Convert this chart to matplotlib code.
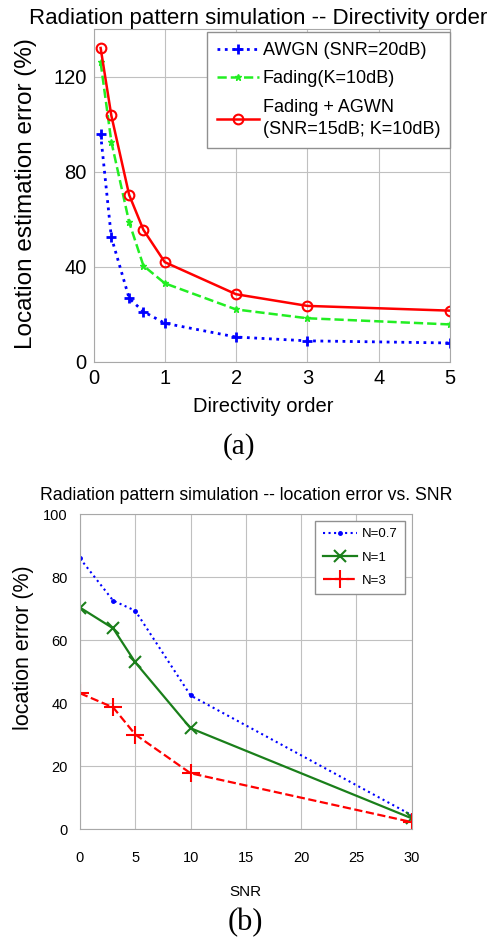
import matplotlib
matplotlib.use("Agg")
import matplotlib.pyplot as plt

SANS = ['Liberation Sans', 'DejaVu Sans']
SERIF = ['Liberation Serif', 'DejaVu Serif']
plt.rcParams['font.family'] = SANS

# ---- data panel (a) ----
order = [0.1, 0.25, 0.5, 0.7, 1, 2, 3, 5]
awgn = [95.7, 52.4, 26.7, 21.1, 16.2, 10.4, 8.8, 7.9]
fading = [125.9, 92.6, 58.7, 40.4, 33.0, 22.0, 18.3, 15.7]
fading_awgn = [132.0, 103.6, 70.2, 55.5, 41.9, 28.4, 23.5, 21.5]
a_labels = ["AWGN (SNR=20dB)", "Fading(K=10dB)", "Fading + AGWN\n(SNR=15dB; K=10dB)"]
a_xticks = [0, 1, 2, 3, 4, 5]
a_yticks = [0, 40, 80, 120]

# ---- data panel (b) ----
snr = [0, 3, 5, 10, 30]
n07 = [85.9, 72.5, 69.3, 42.4, 4.4]
n1 = [70.3, 63.7, 52.9, 32.0, 3.4]
n3 = [43.1, 38.6, 30.0, 17.7, 2.2]
b_labels = ["N=0.7", "N=1", "N=3"]
b_xticks = [0, 5, 10, 15, 20, 25, 30]
b_yticks = [0, 20, 40, 60, 80, 100]

fig = plt.figure(figsize=(5, 9.47), dpi=100)

grid_c = '#c0c0c0'
spine_c = '#a8a8a8'

# ---------- panel (a) ----------
ax1 = fig.add_axes([0.187, 0.618, 0.713, 0.3514])
ax1.plot(order, awgn, ':', color='#0000ff', lw=2, marker='+', ms=7, mew=2, label=a_labels[0])
ax1.plot(order, fading, '--', color='#22ee22', lw=1.8, marker='*', ms=5, mew=1, label=a_labels[1])
ax1.plot(order, fading_awgn, '-', color='#ff0000', lw=1.8, marker='o', ms=7, mfc='none', mew=1.5, label=a_labels[2])
ax1.set_xlim(0, 5)
ax1.set_ylim(0, 140)
ax1.set_xticks(a_xticks)
ax1.set_yticks(a_yticks)
ax1.grid(True, color=grid_c, lw=0.8)
ax1.tick_params(length=0, labelsize=14.5, pad=5)
for s in ax1.spines.values():
    s.set_color(spine_c)
ax1.set_title("Radiation pattern simulation -- Directivity order", fontsize=16, pad=3, x=0.463)
ax1.set_xlabel("Directivity order", fontsize=14.5)
ax1.xaxis.set_label_coords(0.475, -0.105)
ax1.set_ylabel("Location estimation error (%)", fontsize=17.5)
ax1.yaxis.set_label_coords(-0.158, 0.505)
leg1 = ax1.legend(loc='upper right', bbox_to_anchor=(1.0, 0.99), fontsize=13, frameon=True,
                  fancybox=False, edgecolor='#909090', handlelength=2.3, borderaxespad=0.0,
                  labelspacing=0.62, handletextpad=0.2, borderpad=0.55, framealpha=1)
leg1.get_frame().set_linewidth(1.0)
leg1.get_texts()[2].set_linespacing(1.45)
fig.text(0.478, 0.528, "(a)", family=SERIF, fontsize=21, ha='center', va='center')

# ---------- panel (b) ----------
ax2 = fig.add_axes([0.16, 0.1246, 0.6634, 0.3326])
ax2.plot(snr, n07, ':', color='#0000ff', lw=1.5, marker='.', ms=5, label=b_labels[0])
ax2.plot(snr, n1, '-', color='#1a7f1a', lw=1.6, marker='x', ms=9, mew=1.5, label=b_labels[1])
ax2.plot(snr, n3, '--', color='#ff0000', lw=1.6, marker='+', ms=13, mew=1.5, label=b_labels[2])
ax2.set_xlim(0, 30)
ax2.set_ylim(0, 100)
ax2.set_xticks(b_xticks)
ax2.set_yticks(b_yticks)
ax2.grid(True, color=grid_c, lw=0.8)
ax2.tick_params(axis='x', length=0, labelsize=10.5, pad=16)
ax2.tick_params(axis='y', length=0, labelsize=10.5, pad=9)
for s in ax2.spines.values():
    s.set_color(spine_c)
ax2.set_title("Radiation pattern simulation -- location error vs. SNR", fontsize=12.7, pad=10)
ax2.set_xlabel("SNR", fontsize=11, labelpad=14)
ax2.set_ylabel("location error (%)", fontsize=15.5)
ax2.yaxis.set_label_coords(-0.14, 0.575)
leg2 = ax2.legend(loc='upper right', fontsize=9.5, frameon=True, fancybox=False,
                  edgecolor='#909090', handlelength=2.6, borderaxespad=0.5,
                  labelspacing=0.85, handletextpad=0.4, borderpad=0.55, framealpha=1)
fig.text(0.49, 0.0253, "(b)", family=SERIF, fontsize=22, ha='center', va='center')

fig.savefig("out.png", dpi=100)
